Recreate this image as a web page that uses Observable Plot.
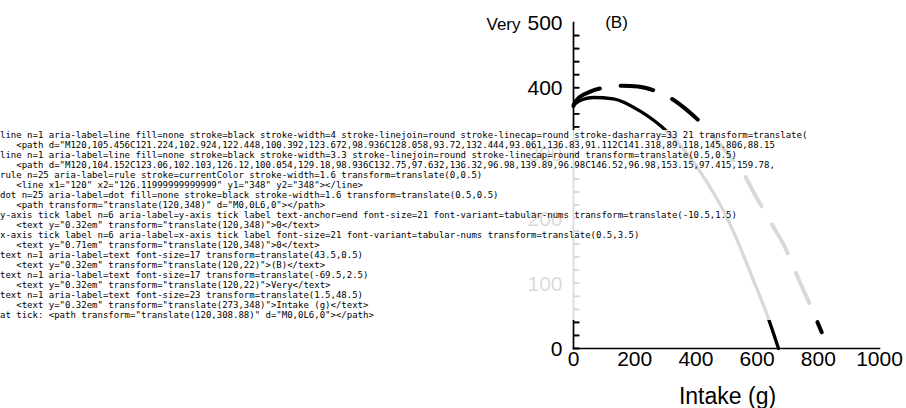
<!DOCTYPE html>
<html><head><meta charset="utf-8">
<script src="https://cdn.jsdelivr.net/npm/d3@7"></script>
<script src="https://cdn.jsdelivr.net/npm/@observablehq/plot@0.6"></script>
<style>
html,body{margin:0;padding:0;background:#fff;}
#wrap{display:flex;width:906px;height:408px;}
#wrap svg{flex:none;}
#dbg{font:9px monospace;white-space:pre;position:absolute;left:0;top:130px;width:906px;background:rgba(255,255,255,0.85);}
</style></head><body><div id="wrap"></div><div id="dbg"></div>
<script>
const solidX = [0, 30, 65, 130, 218, 305, 370, 436, 480, 534, 585, 630, 670];
const solidY = [374, 382, 385, 383, 364, 333, 300, 255, 220, 167, 108, 55, 0];
const dashedX = [0, 12, 55, 99, 159, 210, 268, 321, 370, 419, 468, 512, 556, 588, 620, 654, 686, 735, 757, 785, 811];
const dashedY = [372, 382, 394, 400, 403, 402, 395, 383, 366, 345, 319, 294, 268, 240, 214, 186, 160, 107, 84, 54, 25];
const xTicksB = [0, 200, 400, 600, 800, 1000];
const yTicksB = [0, 100, 200, 300, 400, 500];
const yMinorB = [0, 20, 40, 60, 80, 100, 120, 140, 160, 180, 200, 220, 240, 260, 280, 300, 320, 340, 360, 380, 400, 420, 440, 460, 480];
const FONT = "'Liberation Sans', Arial, Helvetica, sans-serif";
const W = 453, H = 408;
const tickRight = len => ({draw(ctx) { ctx.moveTo(0, 0); ctx.lineTo(len, 0); }});
const tickStyle = {stroke: "black", fill: "none", r: 3};
const mB = {left: 120, right: 27, top: 22, bottom: 60};
const solid = solidX.map((x, i) => ({x, y: solidY[i]}));
const dashed = dashedX.map((x, i) => ({x, y: dashedY[i]}));
const plotB = Plot.plot({
  width: W, height: H,
  marginLeft: mB.left, marginRight: mB.right, marginTop: mB.top, marginBottom: mB.bottom,
  style: {fontFamily: FONT, background: "white", color: "black", overflow: "visible"},
  x: {domain: [0, 1000]},
  y: {domain: [0, 500]},
  marks: [
    Plot.line(dashed, {x: "x", y: "y", curve: "monotone-x", stroke: "black", strokeWidth: 4, strokeDasharray: "33 21", strokeLinecap: "round"}),
    Plot.line(solid, {x: "x", y: "y", curve: "monotone-x", stroke: "black", strokeWidth: 3.3}),
    Plot.frame({anchor: "left", strokeWidth: 1.7}),
    Plot.frame({anchor: "bottom", strokeWidth: 1.7}),
    Plot.ruleY(yMinorB, {y: d => d, x1: 0, x2: 20, strokeWidth: 1.6}),
    Plot.dot(yMinorB, {y: d => d, frameAnchor: "left", symbol: tickRight(6), strokeWidth: 1.6, ...tickStyle}),
    Plot.axisY({ticks: yTicksB, tickSize: 0, tickPadding: 11, fontSize: 21, label: null, tickFormat: d => String(d), dy: 1}),
    Plot.axisX({ticks: xTicksB, tickSize: 0, tickPadding: 3, fontSize: 21, label: null, tickFormat: d => String(d)}),
    Plot.text(["(B)"], {text: d => d, frameAnchor: "top-left", dx: 43, dy: 0, fontSize: 17, lineAnchor: "middle", textAnchor: "middle"}),
    Plot.text(["Very"], {text: d => d, frameAnchor: "top-left", dx: -70, dy: 2, fontSize: 17, lineAnchor: "middle", textAnchor: "middle"}),
    Plot.text(["Intake (g)"], {text: d => d, frameAnchor: "bottom", dx: 1, dy: 48, fontSize: 23, lineAnchor: "middle"})
  ]
});
const wrap = document.getElementById("wrap");
const spacer = document.createElementNS("http://www.w3.org/2000/svg","svg"); spacer.setAttribute("width",453); spacer.setAttribute("height",408);
wrap.appendChild(spacer);
wrap.appendChild(plotB);
const out = [];
plotB.querySelectorAll("g[aria-label]").forEach(g => {
  const c = g.children[0];
  out.push(g.getAttribute("aria-label") + " n=" + g.children.length + " " + [...g.attributes].map(a=>a.name+"="+a.value).join(" ").slice(0,140));
  if (c) out.push("   " + c.outerHTML.slice(0, 140));
});
const el = document.elementFromPoint(453+123, 348-13*3);
out.push("at tick: " + (el ? el.outerHTML.slice(0,150) : "none"));
document.getElementById("dbg").textContent = out.join("\n");
</script>
</body></html>
